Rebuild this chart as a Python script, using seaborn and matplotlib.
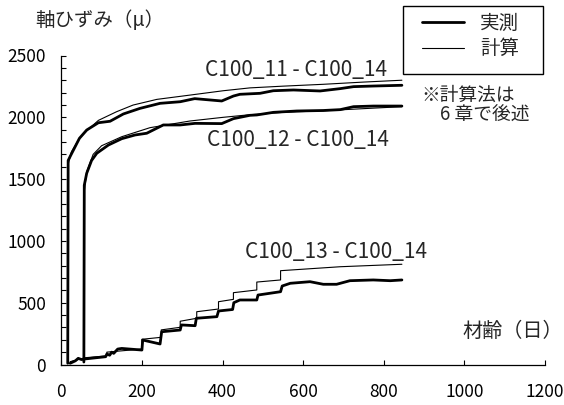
import matplotlib
matplotlib.use("Agg")
import matplotlib.pyplot as plt
from matplotlib.ticker import MultipleLocator
from matplotlib.patches import Rectangle
import seaborn as sns
import pandas as pd

# ---- data ----
c11_meas_day = [16, 17, 23, 45, 63, 92, 121, 154, 195, 245, 295, 331, 398, 427, 443, 493, 526, 576, 642, 692, 725, 774, 845]
c11_meas_val = [10, 1650, 1690, 1830, 1897, 1956, 1968, 2027, 2072, 2113, 2126, 2151, 2132, 2172, 2186, 2194, 2215, 2221, 2213, 2232, 2248, 2253, 2259]
c11_calc_day = [16, 17, 25, 45, 63, 92, 137, 178, 237, 320, 402, 468, 550, 650, 750, 845]
c11_calc_val = [10, 1620, 1720, 1830, 1890, 1975, 2045, 2099, 2145, 2180, 2215, 2238, 2252, 2267, 2285, 2300]

c12_meas_day = [56, 57, 63, 75, 88, 117, 150, 183, 212, 253, 295, 332, 398, 427, 468, 485, 526, 584, 650, 692, 725, 774, 845]
c12_meas_val = [20, 1450, 1547, 1650, 1709, 1776, 1827, 1857, 1871, 1938, 1938, 1951, 1949, 1989, 2016, 2019, 2040, 2051, 2055, 2062, 2086, 2091, 2091]
c12_calc_day = [56, 57, 63, 79, 100, 150, 220, 319, 402, 468, 550, 650, 750, 845]
c12_calc_val = [20, 1400, 1560, 1700, 1770, 1843, 1916, 1970, 2000, 2021, 2040, 2053, 2070, 2086]

c13_meas_day = [22, 35, 42, 50, 59, 110, 113, 120, 125, 130, 140, 150, 200, 202, 245, 249, 295, 298, 332, 335,
                386, 390, 425, 428, 443, 485, 488, 544, 548, 568, 617, 650, 683, 716, 774, 816, 845]
c13_meas_val = [10, 30, 50, 40, 45, 63, 85, 75, 100, 90, 125, 130, 117, 198, 166, 265, 279, 320, 314, 374,
                387, 433, 445, 500, 522, 522, 562, 589, 635, 657, 670, 649, 649, 678, 684, 678, 684]
c13_calc_day = [22, 60, 113, 113, 200, 200, 248, 248, 295, 295, 336, 336, 390, 390, 427, 427, 485, 485, 544, 544, 692, 845]
c13_calc_val = [23, 55, 70, 100, 125, 204, 220, 280, 301, 350, 374, 427, 449, 508, 527, 581, 603, 667, 684, 759, 791, 811]

pair_labels = ["C100_11 - C100_14", "C100_12 - C100_14", "C100_13 - C100_14"]
legend_labels = ["実測", "計算"]
x_ticks = [0, 200, 400, 600, 800, 1000, 1200]
y_ticks = [0, 500, 1000, 1500, 2000, 2500]

# ---- build long table ----
rows = []
for name, d, v, kind in [
    ("11", c11_meas_day, c11_meas_val, "meas"), ("11", c11_calc_day, c11_calc_val, "calc"),
    ("12", c12_meas_day, c12_meas_val, "meas"), ("12", c12_calc_day, c12_calc_val, "calc"),
    ("13", c13_meas_day, c13_meas_val, "meas"), ("13", c13_calc_day, c13_calc_val, "calc"),
]:
    for i, (x, y) in enumerate(zip(d, v)):
        rows.append({"series": name, "kind": kind, "order": i, "day": x, "strain": y})
df = pd.DataFrame(rows)

sns.set_theme(style="ticks")
plt.rcParams["font.family"] = ["Noto Sans CJK JP", "DejaVu Sans"]

W, H = 564, 405
fig = plt.figure(figsize=(W / 100, H / 100), dpi=100)
x0, x1, y0, y1 = 61.3, 545.0, 364.5, 55.5
ax = fig.add_axes([x0 / W, 1 - y0 / H, (x1 - x0) / W, (y0 - y1) / H])

lw = {"meas": 2.0, "calc": 0.8}
handles = {}
for (name, kind), sub in df.groupby(["series", "kind"]):
    sns.lineplot(data=sub, x="day", y="strain", sort=False, estimator=None,
                 color="black", linewidth=lw[kind], ax=ax, legend=False)
    handles[kind] = ax.lines[-1]

ax.set_xlim(0, 1200)
ax.set_ylim(0, 2500)
ax.set_xticks(x_ticks)
ax.set_yticks(y_ticks)
ax.yaxis.set_minor_locator(MultipleLocator(100))
ax.set_xlabel("")
ax.set_ylabel("")
sns.despine(ax=ax)
for s in ["left", "bottom"]:
    ax.spines[s].set_linewidth(0.9)
    ax.spines[s].set_color("black")
ax.tick_params(axis="both", which="both", direction="in", length=3.6, width=0.8, colors="black", labelsize=12.5)
ax.tick_params(axis="y", which="both", pad=11)
ax.tick_params(axis="x", which="major", pad=13)

# series labels
ax.text(582, 2383, pair_labels[0], ha="center", va="center", fontsize=15)
ax.text(587, 1816, pair_labels[1], ha="center", va="center", fontsize=15)
ax.text(682, 910, pair_labels[2], ha="center", va="center", fontsize=15)

# axis titles
fig.text(35 / W, 1 - 21 / H, "軸ひずみ（μ）", ha="left", va="center", fontsize=14)
fig.text(462 / W, 1 - 331 / H, "材齢（日）", ha="left", va="center", fontsize=14.5)

# note
fig.text(421 / W, 1 - 95 / H, "※計算法は", ha="left", va="center", fontsize=13.5)
fig.text(440 / W, 1 - 115 / H, "6 章で後述", ha="left", va="center", fontsize=13.5)

# legend box + legend
box = Rectangle((402.7 / W, 1 - 74 / H), (543.3 - 402.7) / W, (74 - 6) / H,
                transform=fig.transFigure, facecolor="white", edgecolor="black",
                linewidth=1.0, zorder=3)
fig.patches.append(box)
leg = fig.legend([handles["meas"], handles["calc"]], legend_labels,
                 loc="upper left", bbox_to_anchor=(421.7 / W, 1 - 12.5 / H),
                 bbox_transform=fig.transFigure, borderaxespad=0, borderpad=0,
                 fontsize=14, handlelength=2.2, handletextpad=0.8,
                 labelspacing=0.25, frameon=False)
leg.set_zorder(5)

fig.savefig("out.png", dpi=100)
